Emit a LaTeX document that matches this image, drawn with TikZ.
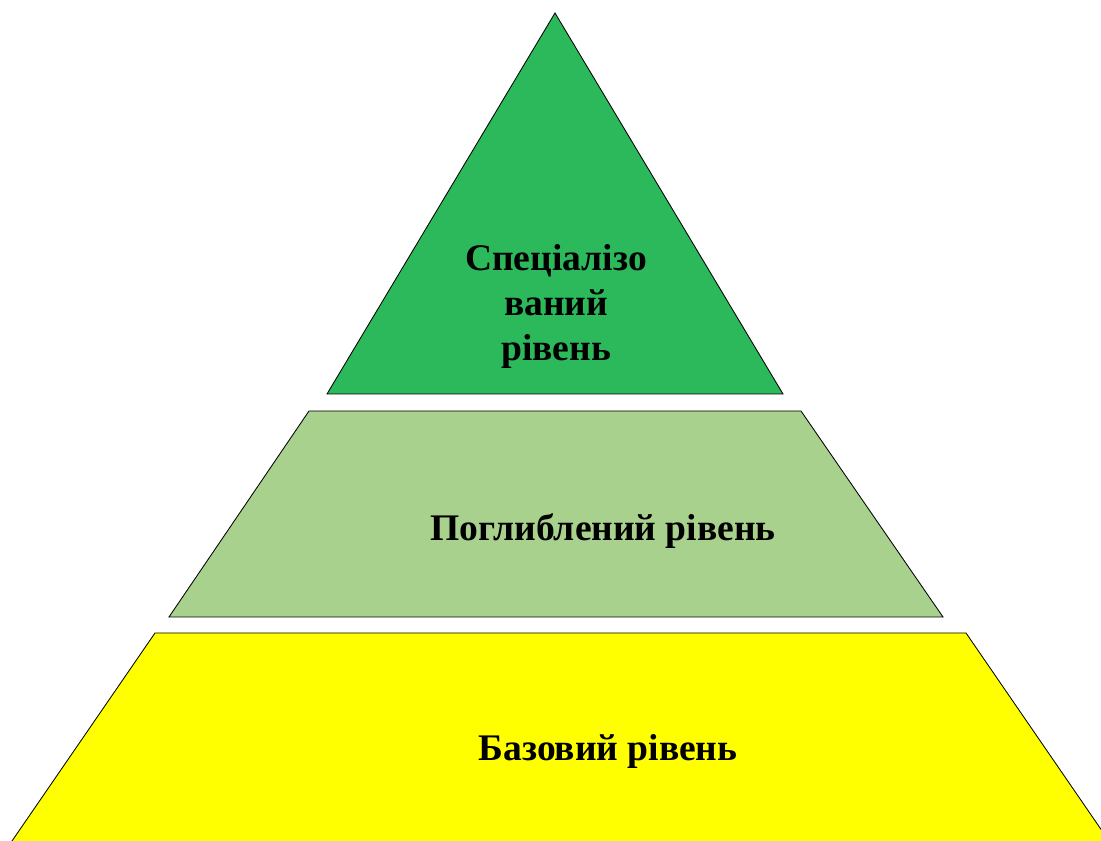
\documentclass[tikz,border=0pt]{standalone}
\usepackage{fontspec}
\setmainfont{Liberation Serif}
\usetikzlibrary{positioning, calc}
\definecolor{topgreen}{RGB}{43,185,92}
\definecolor{midgreen}{RGB}{169,209,142}
\definecolor{baseyellow}{RGB}{255,255,0}
\tikzset{
  lvl/.style={draw=black, line width=0.6pt, line join=miter},
  lab/.style={font=\fontsize{26.7}{32}\selectfont\bfseries, align=center, inner sep=0pt}
}

\begin{document}
\begin{tikzpicture}[x=0.025cm, y=0.025cm]
\useasboundingbox (0,0) rectangle (1101,841);
\clip (0,0) rectangle (1101,841);
% corners of the three levels
\coordinate (apex) at (555,828);
\coordinate (tl) at (327,447);
\coordinate (tr) at (783,447);
\coordinate (m1) at (309,430);
\coordinate (m2) at (801,430);
\coordinate (m3) at (943,224);
\coordinate (m4) at (169,224);
\coordinate (b1) at (155,208);
\coordinate (b2) at (966,208);
\coordinate (b3) at (1109,0);
\coordinate (b4) at (12,0);

\filldraw[lvl, fill=topgreen] (apex) -- (tr) -- (tl) -- cycle;
\filldraw[lvl, fill=midgreen] (m1) -- (m2) -- (m3) -- (m4) -- cycle;
\fill[baseyellow] (b1) -- (b2) -- (b3) -- (b4) -- cycle;
\draw[lvl] (b4) -- (b1) -- (b2) -- (b3);

\node[lab] (spec) at (556,535) {Спеціалізо\\ваний\\рівень};
\node[lab] (pogl) at (603,310) {Поглиблений рівень};
\node[lab] (baz) at (608,90) {Базовий рівень};
\end{tikzpicture}
\end{document}
